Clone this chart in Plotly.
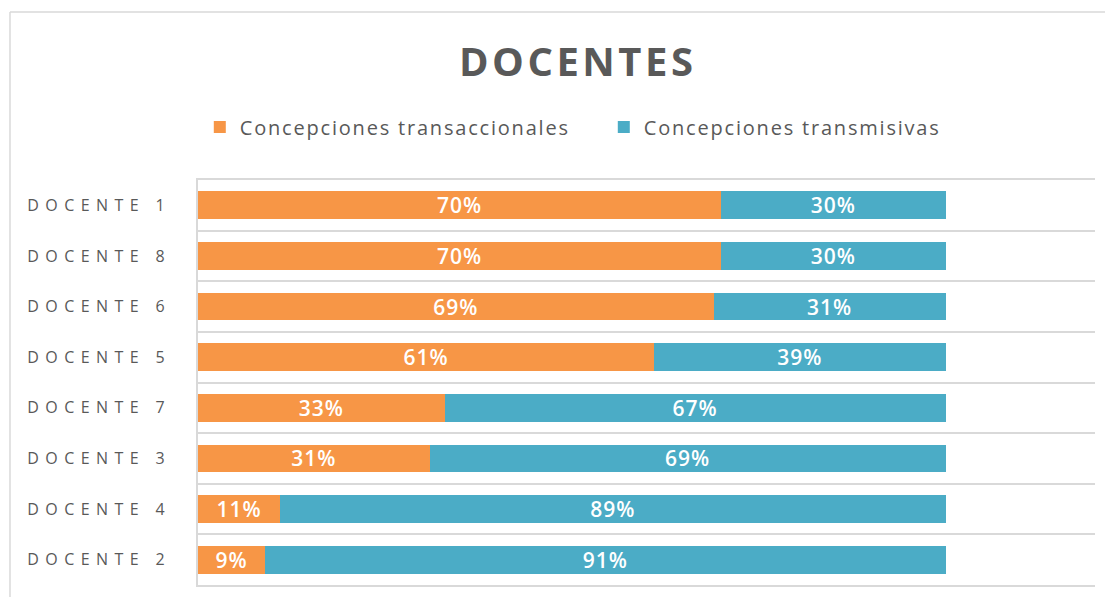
import plotly.graph_objects as go

docentes = ["DOCENTE 1", "DOCENTE 8", "DOCENTE 6", "DOCENTE 5",
            "DOCENTE 7", "DOCENTE 3", "DOCENTE 4", "DOCENTE 2"]
transaccionales = [70, 70, 69, 61, 33, 31, 11, 9]
transmisivas = [30, 30, 31, 39, 67, 69, 89, 91]
series_names = ["Concepciones transaccionales", "Concepciones transmisivas"]
colors = ["#F79646", "#4BACC6"]

GRAY = "#595959"
LINE = "#D9D9D9"

fig = go.Figure()
for name, vals, col in zip(series_names, [transaccionales, transmisivas], colors):
    fig.add_trace(go.Bar(
        y=docentes, x=vals, name='<span style="letter-spacing:1.8px">%s</span>' % name,
        orientation="h",
        marker=dict(color=col, line=dict(width=0)),
        texttemplate='<span style="letter-spacing:1px">%{x}%</span>',
        textposition="inside", insidetextanchor="middle", textangle=0,
        constraintext="none",
        textfont=dict(family="Open Sans", size=21, color="white", weight=600),
    ))

tick_text = ['<span style="letter-spacing:6.4px">%s</span>' % d for d in docentes]

# the page body adds an 8px offset, so the figure is drawn 16px smaller
fig.update_layout(
    barmode="stack",
    bargap=0.45,
    width=1097, height=589,
    margin=dict(l=190, r=10, t=172, b=12),
    paper_bgcolor="white", plot_bgcolor="white",
    font=dict(family="Open Sans", color=GRAY),
    showlegend=True,
    legend=dict(
        orientation="h", x=0.002, xanchor="left", y=1.131, yanchor="middle",
        font=dict(size=20, color=GRAY), entrywidth=359, traceorder="normal",
    ),
    xaxis=dict(range=[0, 120], showgrid=False, showticklabels=False,
               zeroline=False, showline=True, mirror=True,
               linecolor=LINE, linewidth=1.5, ticks=""),
    yaxis=dict(autorange="reversed", tickmode="array", tickvals=docentes,
               ticktext=tick_text, tickson="boundaries", showgrid=True,
               gridcolor=LINE, gridwidth=1.5, showline=True,
               linecolor=LINE, linewidth=1.5, ticks="",
               tickfont=dict(size=16, color=GRAY), ticklabelstandoff=22),
    annotations=[dict(
        text='<span style="letter-spacing:3.5px">DOCENTES</span>',
        xref="paper", yref="paper", x=0.423, y=1.296,
        xanchor="center", yanchor="middle", showarrow=False,
        font=dict(family="Open Sans", size=40, color=GRAY, weight="bold"),
    )],
    shapes=[
        dict(type="line", xref="paper", yref="paper", x0=-0.2096, x1=-0.2096,
             y0=1.4148, y1=-0.2, line=dict(color=LINE, width=1.5)),
        dict(type="line", xref="paper", yref="paper", x0=-0.2096, x1=1.1,
             y0=1.4148, y1=1.4148, line=dict(color=LINE, width=1.5)),
    ],
)

fig.write_html("out.html")
